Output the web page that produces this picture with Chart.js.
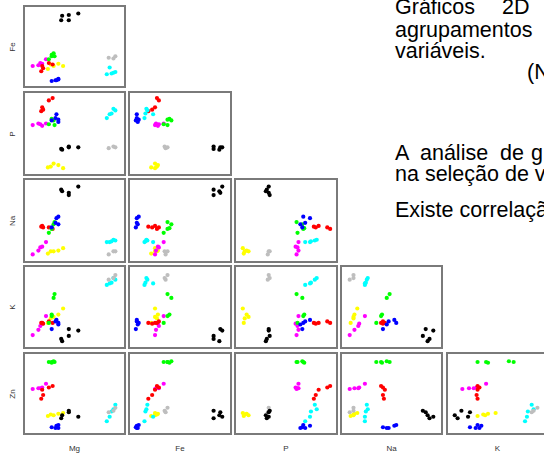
<!DOCTYPE html>
<html>
<head>
<meta charset="utf-8">
<script src="https://cdn.jsdelivr.net/npm/chart.js@4"></script>
<style>
  html, body { margin: 0; padding: 0; background: #fff; }
  body { width: 544px; height: 456px; position: relative; overflow: hidden; font-family: "Liberation Sans", Arial, sans-serif; }
  canvas { position: absolute; }
  .lab { position: absolute; font-size: 8px; color: #333; white-space: nowrap; }
  .rowlab { transform: translate(-50%, -50%) rotate(-90deg); }
  .collab { transform: translateX(-50%); }
  .txt { position: absolute; font-size: 21.5px; line-height: 22px; color: #000; white-space: nowrap; }
</style>
</head>
<body>
<script>
// variables of the matrix, groups drawn in this order
const vars = ["Mg", "Fe", "P", "Na", "K", "Zn"];
const groups = ["black", "gray", "cyan", "blue", "green", "red", "magenta", "yellow"];

// scaled values (0..1) per group, one sample per index
const Mg = [
  [0.37, 0.44, 0.36, 0.44, 0.54],
  [0.86, 0.91, 0.93],
  [0.84, 0.87, 0.89, 0.93, 0.91],
  [0.31, 0.33, 0.33, 0.26, 0.30],
  [0.29, 0.28, 0.26, 0.26, 0.23],
  [0.23, 0.27, 0.16, 0.17, 0.15],
  [0.06, 0.12, 0.16, 0.20, 0.14],
  [0.38, 0.33, 0.28, 0.22, 0.25]
];
const Fe = [
  [0.91, 0.92, 0.85, 0.85, 0.94],
  [0.35, 0.34, 0.37],
  [0.13, 0.22, 0.14, 0.16, 0.15],
  [0.05, 0.07, 0.06, 0.04, 0.05],
  [0.37, 0.41, 0.39, 0.37, 0.33],
  [0.28, 0.26, 0.24, 0.21, 0.17],
  [0.24, 0.25, 0.27, 0.33, 0.28],
  [0.24, 0.27, 0.24, 0.20, 0.26]
];
const P = [
  [0.29, 0.32, 0.30, 0.33, 0.32],
  [0.31, 0.33, 0.32],
  [0.70, 0.75, 0.76, 0.80, 0.82],
  [0.75, 0.68, 0.65, 0.67, 0.70],
  [0.61, 0.67, 0.69, 0.68, 0.62],
  [0.93, 0.96, 0.84, 0.81, 0.79],
  [0.61, 0.63, 0.60, 0.63, 0.62],
  [0.05, 0.09, 0.11, 0.06, 0.07]
];
const Na = [
  [0.88, 0.86, 0.90, 0.83, 0.94],
  [0.06, 0.10, 0.10],
  [0.22, 0.22, 0.23, 0.24, 0.25],
  [0.53, 0.55, 0.45, 0.41, 0.47],
  [0.48, 0.45, 0.40, 0.39, 0.34],
  [0.41, 0.39, 0.43, 0.41, 0.42],
  [0.06, 0.11, 0.16, 0.22, 0.15],
  [0.14, 0.11, 0.10, 0.07, 0.10]
];
const K = [
  [0.05, 0.21, 0.08, 0.12, 0.19],
  [0.86, 0.88, 0.92],
  [0.79, 0.81, 0.82, 0.86, 0.88],
  [0.33, 0.29, 0.27, 0.21, 0.31],
  [0.67, 0.62, 0.40, 0.38, 0.29],
  [0.31, 0.29, 0.29, 0.28, 0.29],
  [0.13, 0.20, 0.28, 0.38, 0.25],
  [0.48, 0.40, 0.37, 0.29, 0.35]
];
const Zn = [
  [0.21, 0.25, 0.17, 0.27, 0.19],
  [0.25, 0.27, 0.31],
  [0.13, 0.19, 0.26, 0.35, 0.29],
  [0.07, 0.08, 0.04, 0.05, 0.04],
  [0.92, 0.93, 0.91, 0.92, 0.92],
  [0.58, 0.60, 0.55, 0.48, 0.43],
  [0.56, 0.57, 0.58, 0.63, 0.57],
  [0.24, 0.23, 0.21, 0.20, 0.22]
];
const values = { Mg, Fe, P, Na, K, Zn };

// colours of the groups
const colors = ["#000000", "#bebebe", "#00ffff", "#0000ff", "#00ff00", "#ff0000", "#ff00ff", "#ffff00"];

// panel grid
const colX = [23, 128, 234, 340, 446];
const colW = [103, 104, 104, 103, 103];
const rowY = [5, 91, 178, 265, 352];
const rowH = [83, 85, 85, 84, 83];

const boxPlugin = {
  id: "box",
  afterDraw(chart) {
    const ctx = chart.ctx;
    ctx.save();
    ctx.strokeStyle = "#7a7a7a";
    ctx.lineWidth = 2;
    ctx.strokeRect(1, 1, chart.width - 2, chart.height - 2);
    ctx.restore();
  }
};

const makePanel = (row, col) => {
  const xv = values[vars[col]];
  const yv = values[vars[row + 1]];
  const canvas = document.createElement("canvas");
  canvas.width = colW[col];
  canvas.height = rowH[row];
  canvas.style.left = colX[col] + "px";
  canvas.style.top = rowY[row] + "px";
  document.body.appendChild(canvas);
  new Chart(canvas.getContext("2d"), {
    type: "scatter",
    data: {
      datasets: groups.map((g, i) => ({
        label: g,
        data: xv[i].map((x, k) => ({ x: x, y: yv[i][k] })),
        backgroundColor: colors[i],
        borderColor: colors[i],
        borderWidth: 0,
        pointRadius: 2.1,
      })),
    },
    options: {
      responsive: false,
      animation: false,
      devicePixelRatio: 1,
      layout: { padding: 0 },
      plugins: { legend: { display: false }, tooltip: { enabled: false } },
      scales: {
        x: { display: false, min: 0, max: 1 },
        y: { display: false, min: 0, max: 1 },
      },
    },
    plugins: [boxPlugin],
  });
};

for (let r = 0; r < 5; r++) {
  for (let c = 0; c <= r; c++) makePanel(r, c);
}

// axis names
vars.slice(1).forEach((v, r) => {
  const d = document.createElement("div");
  d.className = "lab rowlab";
  d.textContent = v;
  d.style.left = "12px";
  d.style.top = rowY[r] + rowH[r] / 2 + "px";
  document.body.appendChild(d);
});
vars.slice(0, 5).forEach((v, c) => {
  const d = document.createElement("div");
  d.className = "lab collab";
  d.textContent = v;
  d.style.left = colX[c] + colW[c] / 2 + "px";
  d.style.top = "444px";
  document.body.appendChild(d);
});

// slide text on the right
const lines = [
  ["Gráficos", 395, -4], ["2D", 502, -4],
  ["agrupamentos", 395, 19],
  ["variáveis.", 395, 40],
  ["(N", 527, 61],
  ["A", 395, 142], ["análise", 420, 142], ["de", 500, 142], ["g", 531, 142],
  ["na seleção de v", 395, 163],
  ["Existe correlaçã", 395, 199]
];
lines.forEach(([t, x, y]) => {
  const d = document.createElement("div");
  d.className = "txt";
  d.textContent = t;
  d.style.left = x + "px";
  d.style.top = y + "px";
  document.body.appendChild(d);
});
</script>
</body>
</html>
